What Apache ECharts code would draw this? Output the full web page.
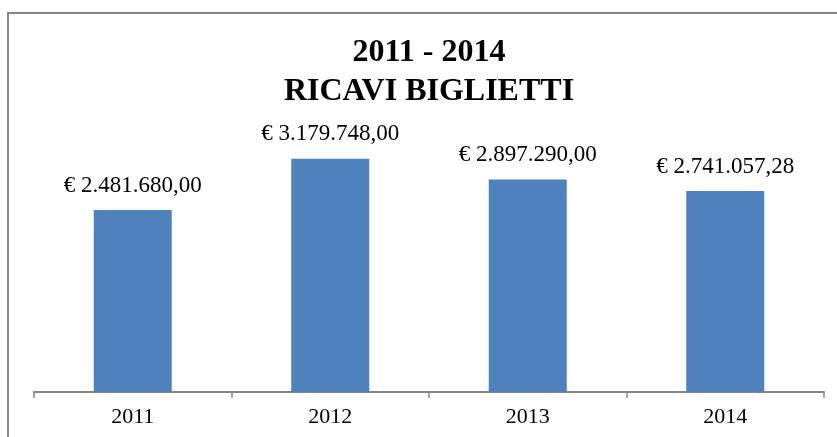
<!DOCTYPE html>
<html>
<head>
<meta charset="utf-8">
<script src="https://cdn.jsdelivr.net/npm/echarts@6/dist/echarts.min.js"></script>
<style>html,body{margin:0;padding:0;background:#fff}#c{width:837px;height:437px}</style>
</head>
<body>
<div id="c"></div>
<script>
const categories = ['2011', '2012', '2013', '2014'];
const revenues = [2481680.00, 3179748.00, 2897290.00, 2741057.28];
const titleLines = ['2011 - 2014', 'RICAVI BIGLIETTI'];

function euro(v) {
  const parts = v.toFixed(2).split('.');
  const intPart = parts[0].replace(/\B(?=(\d{3})+(?!\d))/g, '.');
  return '€ ' + intPart + ',' + parts[1];
}

const chart = echarts.init(document.getElementById('c'), null, {renderer: 'canvas'});
chart.setOption({
  animation: false,
  backgroundColor: '#fff',
  textStyle: {fontFamily: 'Liberation Serif'},
  title: {
    text: titleLines.join('\n'),
    left: 424,
    textAlign: 'center',
    top: 28,
    textStyle: {fontFamily: 'Liberation Serif', fontWeight: 'bold', fontSize: 32, lineHeight: 39, color: '#000'}
  },
  graphic: [{
    type: 'rect',
    shape: {x: 8, y: 13, width: 840, height: 440},
    style: {fill: 'none', stroke: '#868686', lineWidth: 2},
    silent: true
  }],
  grid: {left: 34, right: 13, top: 135.3, bottom: 45},
  xAxis: {
    type: 'category',
    data: categories,
    axisLine: {show: true, lineStyle: {color: '#868686', width: 2}},
    axisTick: {show: true, length: 6, lineStyle: {color: '#868686', width: 1.5}},
    axisLabel: {color: '#000', fontSize: 22, fontFamily: 'Liberation Serif', margin: 14}
  },
  yAxis: {
    type: 'value', min: 0, max: 3500000,
    show: false, splitLine: {show: false}
  },
  series: [{
    type: 'bar',
    data: revenues,
    barWidth: '39.5%',
    itemStyle: {color: '#4F81BD'},
    label: {
      show: true, position: 'top', distance: 13,
      color: '#000', fontSize: 23, fontFamily: 'Liberation Serif',
      formatter: p => euro(p.value)
    }
  }]
});
</script>
</body>
</html>
